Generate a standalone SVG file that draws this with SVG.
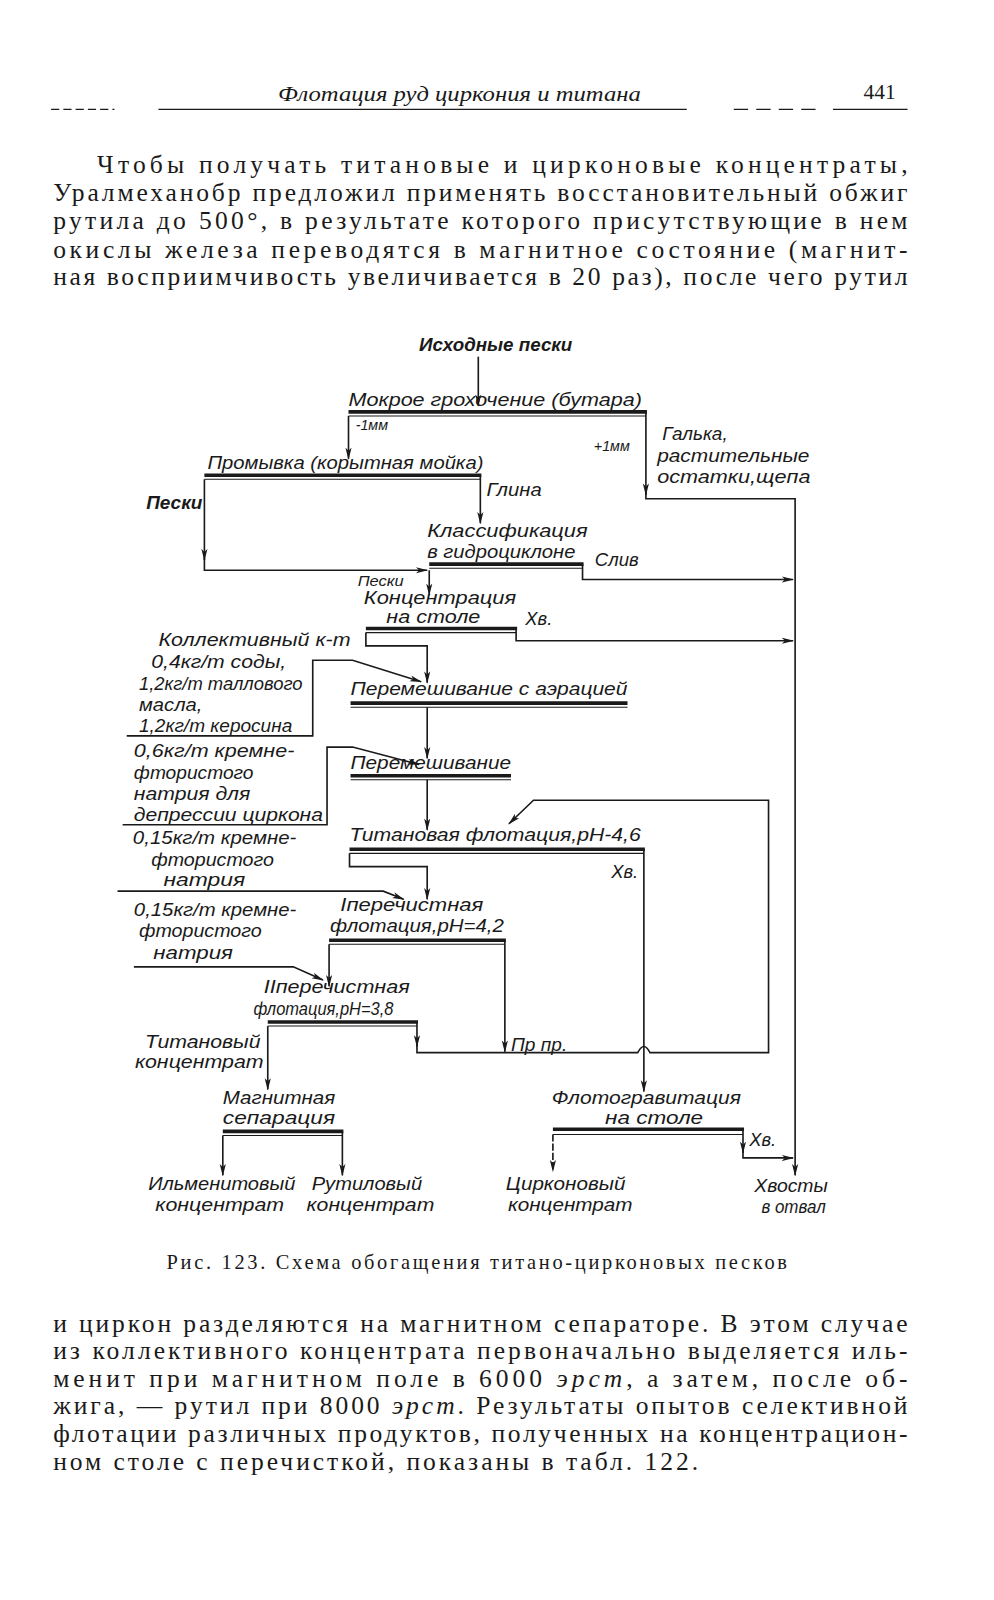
<svg xmlns="http://www.w3.org/2000/svg" width="994" height="1600" viewBox="0 0 994 1600">
<style>
.bg{fill:#ffffff}
.t{font-family:"Liberation Sans","DejaVu Sans",sans-serif;font-style:italic;font-size:18px;fill:#1a1a1a}
.s{font-size:14px}
.b{font-weight:bold}
.body{font-family:"Liberation Serif","DejaVu Serif",serif;font-size:25px;fill:#1a1a1a}
.cap{font-family:"Liberation Serif","DejaVu Serif",serif;font-size:20px;fill:#1a1a1a}
.hd{font-family:"Liberation Serif","DejaVu Serif",serif;font-style:italic;font-size:21px;fill:#1a1a1a}
.i{font-style:italic}
.ln{stroke:#1a1a1a;stroke-width:1.6;fill:none}
.thk{stroke:#1a1a1a;stroke-width:3.5}
.thn{stroke:#1a1a1a;stroke-width:1}
.rule{stroke:#1a1a1a;stroke-width:1.2}
</style>
<defs>
<marker id="ah" markerWidth="12" markerHeight="8" refX="11" refY="4" orient="auto" markerUnits="userSpaceOnUse">
<path d="M0,1 L12,4 L0,7 L3,4 z" fill="#1a1a1a"/>
</marker>
</defs>
<rect class="bg" x="0" y="0" width="994" height="1600"/>
<g id="page" transform="scale(1.022)">

<!-- header -->
<g id="header">
<text class="hd" x="272" y="99" textLength="355" lengthAdjust="spacingAndGlyphs">Флотация руд циркония и титана</text>
<text class="hd" x="845" y="97" style="font-style:normal">441</text>
<line class="rule" x1="50" y1="107" x2="112" y2="107" stroke-dasharray="8 4"/>
<line class="rule" x1="155" y1="107" x2="672" y2="107"/>
<line class="rule" x1="718" y1="107" x2="800" y2="107" stroke-dasharray="14 8"/>
<line class="rule" x1="815" y1="107" x2="888" y2="107"/>
</g>

<!-- top paragraph -->
<g id="para-top">
<text class="body" x="95" y="169" textLength="793">Чтобы получать титановые и цирконовые концентраты,</text>
<text class="body" x="52" y="197" textLength="836">Уралмеханобр предложил применять восстановительный обжиг</text>
<text class="body" x="52" y="224" textLength="836">рутила до 500°, в результате которого присутствующие в нем</text>
<text class="body" x="52" y="252" textLength="836">окислы железа переводятся в магнитное состояние (магнит-</text>
<text class="body" x="52" y="279" textLength="836">ная восприимчивость увеличивается в 20 раз), после чего рутил</text>
</g>

<!-- connectors -->
<g id="connectors">
<path class="ln" d="M468,349 V397" marker-end="url(#ah)"/>
<path class="ln" d="M341,407 V449" marker-end="url(#ah)"/>
<path class="ln" d="M632,403 V484" marker-end="url(#ah)"/>
<path class="ln" d="M632,482 V488 H778 V1150" marker-end="url(#ah)"/>
<path class="ln" d="M470,465 V512" marker-end="url(#ah)"/>
<path class="ln" d="M200,469 V548" marker-end="url(#ah)"/>
<path class="ln" d="M200,546 V558 H418" marker-end="url(#ah)"/>
<path class="ln" d="M570,552 V567 H776" marker-end="url(#ah)"/>
<path class="ln" d="M420,558 V582" marker-end="url(#ah)"/>
<path class="ln" d="M505,615 V627 H776" marker-end="url(#ah)"/>
<path class="ln" d="M358,619 V632 H418 V668" marker-end="url(#ah)"/>
<path class="ln" d="M124,720 H306 V646 H345 L412,667" marker-end="url(#ah)"/>
<path class="ln" d="M418,692 V742" marker-end="url(#ah)"/>
<path class="ln" d="M120,807 H320 V731 H345 L410,748" marker-end="url(#ah)"/>
<path class="ln" d="M418,763 V812" marker-end="url(#ah)"/>
<path class="ln" d="M342,835 V848 H418 V880" marker-end="url(#ah)"/>
<path class="ln" d="M115,872 H375 L395,880" marker-end="url(#ah)"/>
<path class="ln" d="M630,831 V1068" marker-end="url(#ah)"/>
<path class="ln" d="M322,924 V965" marker-end="url(#ah)"/>
<path class="ln" d="M131,946 H287 L316,959" marker-end="url(#ah)"/>
<path class="ln" d="M494,920 V1029" marker-end="url(#ah)"/>
<path class="ln" d="M408,1000 V1024" marker-end="url(#ah)"/>
<path class="ln" d="M408,1022 V1030 H624 Q630,1018 636,1030 H752 V783 H522 L498,806" marker-end="url(#ah)"/>
<path class="ln" d="M262,1004 V1066" marker-end="url(#ah)"/>
<path class="ln" d="M218,1111 V1150" marker-end="url(#ah)"/>
<path class="ln" d="M335,1107 V1150" marker-end="url(#ah)"/>
<path class="ln" d="M541,1110 V1146" stroke-dasharray="7 2" marker-end="url(#ah)"/>
<path class="ln" d="M727,1105 V1128" marker-end="url(#ah)"/>
<path class="ln" d="M727,1126 V1133 H776" marker-end="url(#ah)"/>
</g>

<!-- nodes -->
<g id="feed">
<text class="t b" x="485" y="343" text-anchor="middle" textLength="150" lengthAdjust="spacingAndGlyphs">Исходные пески</text>
</g>
<g id="screening">
<text class="t" x="341" y="397" textLength="287" lengthAdjust="spacingAndGlyphs">Мокрое грохочение (бутара)</text>
<line class="thk" x1="341" y1="403" x2="633" y2="403"/>
<line class="thn" x1="341" y1="407" x2="632" y2="407"/>
<text class="t s" x="348" y="421">-1мм</text>
<text class="t s" x="581" y="441">+1мм</text>
</g>
<g id="oversize">
<text class="t" x="648" y="431" textLength="64" lengthAdjust="spacingAndGlyphs">Галька,</text>
<text class="t" x="643" y="452" textLength="149" lengthAdjust="spacingAndGlyphs">растительные</text>
<text class="t" x="643" y="473" textLength="150" lengthAdjust="spacingAndGlyphs">остатки,щепа</text>
</g>
<g id="washing">
<text class="t" x="203" y="459" textLength="270" lengthAdjust="spacingAndGlyphs">Промывка (корытная мойка)</text>
<line class="thk" x1="200" y1="465" x2="471" y2="465"/>
<line class="thn" x1="200" y1="469" x2="470" y2="469"/>
<text class="t" x="476" y="485" textLength="54" lengthAdjust="spacingAndGlyphs">Глина</text>
<text class="t b" x="143" y="498" textLength="55" lengthAdjust="spacingAndGlyphs">Пески</text>
</g>
<g id="classification">
<text class="t" x="418" y="525" textLength="157" lengthAdjust="spacingAndGlyphs">Классификация</text>
<text class="t" x="418" y="546" textLength="145" lengthAdjust="spacingAndGlyphs">в гидроциклоне</text>
<line class="thk" x1="420" y1="552" x2="571" y2="552"/>
<line class="thn" x1="420" y1="556" x2="570" y2="556"/>
<text class="t" x="582" y="554" textLength="43" lengthAdjust="spacingAndGlyphs">Слив</text>
<text class="t" x="350" y="573" style="font-size:14px" textLength="45" lengthAdjust="spacingAndGlyphs">Пески</text>
</g>
<g id="table">
<text class="t" x="356" y="591" textLength="149" lengthAdjust="spacingAndGlyphs">Концентрация</text>
<text class="t" x="378" y="610" textLength="92" lengthAdjust="spacingAndGlyphs">на столе</text>
<line class="thk" x1="358" y1="615" x2="506" y2="615"/>
<line class="thn" x1="358" y1="619" x2="505" y2="619"/>
<text class="t" x="514" y="612">Хв.</text>
<text class="t" x="155" y="632" textLength="188" lengthAdjust="spacingAndGlyphs">Коллективный к-т</text>
</g>
<g id="reagents1">
<text class="t" x="148" y="654" textLength="132" lengthAdjust="spacingAndGlyphs">0,4кг/т соды,</text>
<text class="t" x="136" y="675" textLength="160" lengthAdjust="spacingAndGlyphs">1,2кг/т таллового</text>
<text class="t" x="136" y="696" textLength="62" lengthAdjust="spacingAndGlyphs">масла,</text>
<text class="t" x="136" y="716" textLength="150" lengthAdjust="spacingAndGlyphs">1,2кг/т керосина</text>
</g>
<g id="aeration-mixing">
<text class="t" x="343" y="680" textLength="271" lengthAdjust="spacingAndGlyphs">Перемешивание с аэрацией</text>
<line class="thk" x1="343" y1="688" x2="614" y2="688"/>
<line class="thn" x1="343" y1="692" x2="614" y2="692"/>
</g>
<g id="reagents2">
<text class="t" x="131" y="741" textLength="157" lengthAdjust="spacingAndGlyphs">0,6кг/т кремне-</text>
<text class="t" x="131" y="762" textLength="117" lengthAdjust="spacingAndGlyphs">фтористого</text>
<text class="t" x="131" y="783" textLength="114" lengthAdjust="spacingAndGlyphs">натрия для</text>
<text class="t" x="131" y="803" textLength="185" lengthAdjust="spacingAndGlyphs">депрессии циркона</text>
</g>
<g id="mixing">
<text class="t" x="343" y="752" textLength="157" lengthAdjust="spacingAndGlyphs">Перемешивание</text>
<line class="thk" x1="343" y1="759" x2="500" y2="759"/>
<line class="thn" x1="343" y1="763" x2="500" y2="763"/>
</g>
<g id="ti-flotation">
<text class="t" x="342" y="823" textLength="285" lengthAdjust="spacingAndGlyphs">Титановая флотация,рН-4,6</text>
<line class="thk" x1="342" y1="831" x2="631" y2="831"/>
<line class="thn" x1="342" y1="835" x2="630" y2="835"/>
<text class="t" x="598" y="859">Хв.</text>
</g>
<g id="reagents3">
<text class="t" x="130" y="826" textLength="160" lengthAdjust="spacingAndGlyphs">0,15кг/т кремне-</text>
<text class="t" x="148" y="847" textLength="120" lengthAdjust="spacingAndGlyphs">фтористого</text>
<text class="t" x="160" y="867" textLength="80" lengthAdjust="spacingAndGlyphs">натрия</text>
</g>
<g id="cleaner1">
<text class="t" x="333" y="891" textLength="140" lengthAdjust="spacingAndGlyphs">Iперечистная</text>
<text class="t" x="323" y="912" textLength="170" lengthAdjust="spacingAndGlyphs">флотация,рН=4,2</text>
<line class="thk" x1="322" y1="920" x2="495" y2="920"/>
<line class="thn" x1="322" y1="924" x2="494" y2="924"/>
</g>
<g id="reagents4">
<text class="t" x="131" y="896" textLength="159" lengthAdjust="spacingAndGlyphs">0,15кг/т кремне-</text>
<text class="t" x="136" y="917" textLength="120" lengthAdjust="spacingAndGlyphs">фтористого</text>
<text class="t" x="150" y="938" textLength="78" lengthAdjust="spacingAndGlyphs">натрия</text>
</g>
<g id="cleaner2">
<text class="t" x="258" y="972" textLength="143" lengthAdjust="spacingAndGlyphs">IIперечистная</text>
<text class="t" x="248" y="993" textLength="137" lengthAdjust="spacingAndGlyphs">флотация,рН=3,8</text>
<line class="thk" x1="262" y1="1000" x2="409" y2="1000"/>
<line class="thn" x1="262" y1="1004" x2="408" y2="1004"/>
<text class="t" x="500" y="1028" textLength="55" lengthAdjust="spacingAndGlyphs">Пр пр.</text>
</g>
<g id="ti-concentrate">
<text class="t" x="142" y="1025" textLength="113" lengthAdjust="spacingAndGlyphs">Титановый</text>
<text class="t" x="132" y="1045" textLength="126" lengthAdjust="spacingAndGlyphs">концентрат</text>
</g>
<g id="magnetic">
<text class="t" x="218" y="1080" textLength="110" lengthAdjust="spacingAndGlyphs">Магнитная</text>
<text class="t" x="218" y="1100" textLength="110" lengthAdjust="spacingAndGlyphs">сепарация</text>
<line class="thk" x1="218" y1="1107" x2="336" y2="1107" stroke-width="2.5"/>
<line class="thn" x1="218" y1="1111" x2="335" y2="1111"/>
</g>
<g id="flotogravity">
<text class="t" x="540" y="1080" textLength="185" lengthAdjust="spacingAndGlyphs">Флотогравитация</text>
<text class="t" x="592" y="1100" textLength="96" lengthAdjust="spacingAndGlyphs">на столе</text>
<line class="thk" x1="541" y1="1105" x2="728" y2="1105"/>
<line class="thn" x1="541" y1="1110" x2="727" y2="1110"/>
<text class="t" x="733" y="1121">Хв.</text>
</g>
<g id="ilmenite">
<text class="t" x="145" y="1164" textLength="144" lengthAdjust="spacingAndGlyphs">Ильменитовый</text>
<text class="t" x="152" y="1185" textLength="126" lengthAdjust="spacingAndGlyphs">концентрат</text>
</g>
<g id="rutile">
<text class="t" x="305" y="1164" textLength="108" lengthAdjust="spacingAndGlyphs">Рутиловый</text>
<text class="t" x="300" y="1185" textLength="125" lengthAdjust="spacingAndGlyphs">концентрат</text>
</g>
<g id="zircon">
<text class="t" x="495" y="1164" textLength="117" lengthAdjust="spacingAndGlyphs">Цирконовый</text>
<text class="t" x="497" y="1185" textLength="122" lengthAdjust="spacingAndGlyphs">концентрат</text>
</g>
<g id="tailings">
<text class="t" x="738" y="1166" textLength="72" lengthAdjust="spacingAndGlyphs">Хвосты</text>
<text class="t" x="745" y="1187" textLength="63" lengthAdjust="spacingAndGlyphs">в отвал</text>
</g>

<!-- caption -->
<text class="cap" x="163" y="1242" textLength="607">Рис. 123. Схема обогащения титано-цирконовых песков</text>

<!-- bottom paragraph -->
<g id="para-bottom">
<text class="body" x="52" y="1303" textLength="836">и циркон разделяются на магнитном сепараторе. В этом случае</text>
<text class="body" x="52" y="1330" textLength="836">из коллективного концентрата первоначально выделяется иль-</text>
<text class="body" x="52" y="1357" textLength="836">менит при магнитном поле в 6000 <tspan class="i">эрст</tspan>, а затем, после об-</text>
<text class="body" x="52" y="1384" textLength="836">жига, — рутил при 8000 <tspan class="i">эрст</tspan>. Результаты опытов селективной</text>
<text class="body" x="52" y="1411" textLength="836">флотации различных продуктов, полученных на концентрацион-</text>
<text class="body" x="52" y="1438" textLength="631">ном столе с перечисткой, показаны в табл. 122.</text>
</g>
</g>
</svg>
